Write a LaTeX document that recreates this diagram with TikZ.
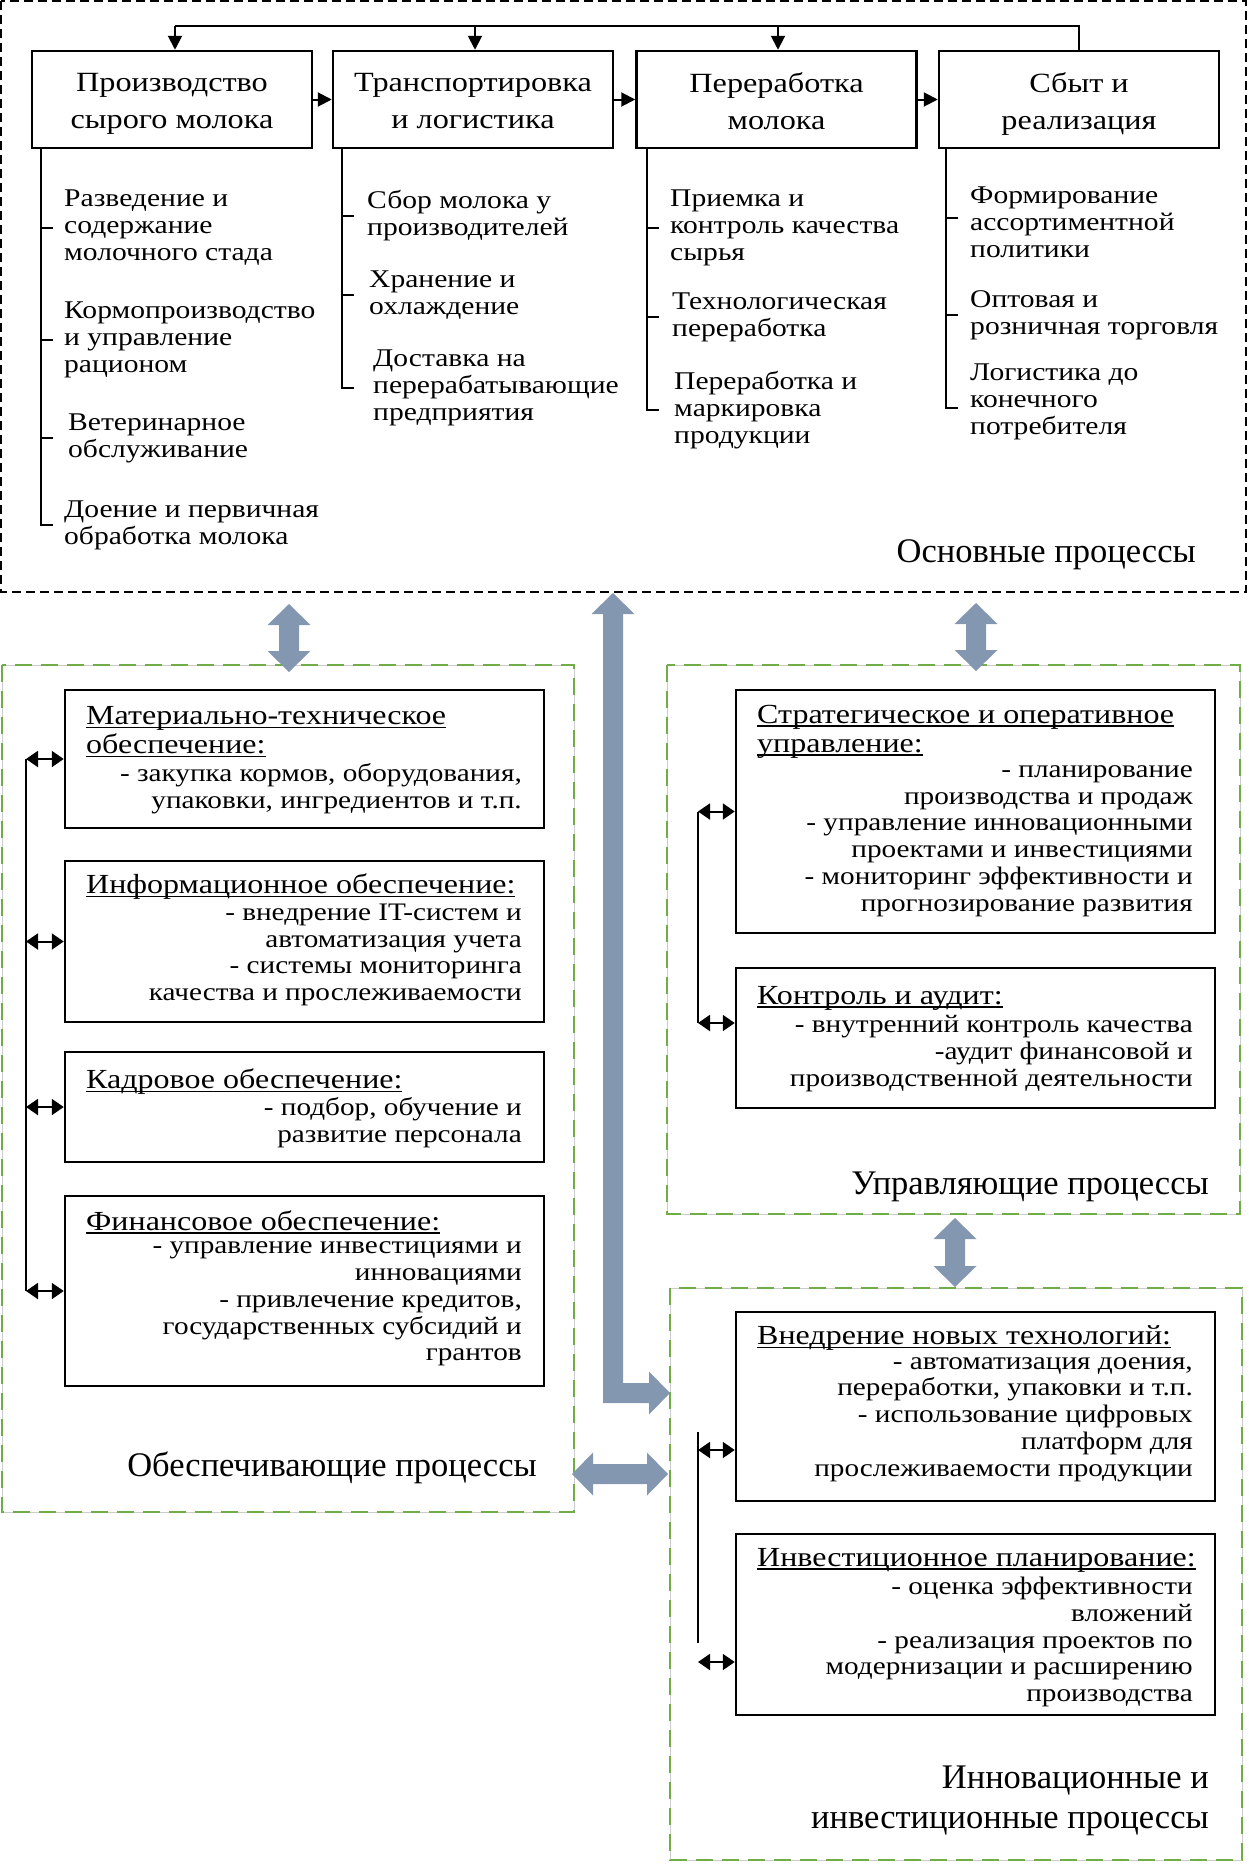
\documentclass[tikz,border=0pt]{standalone}
\usepackage{fontspec}
\setmainfont{Liberation Serif}[FakeStretch=1.16]
\newfontfamily\sectfont{Liberation Serif}
\usetikzlibrary{arrows.meta,calc}
\definecolor{blu}{RGB}{132,151,176}
\definecolor{grn}{RGB}{112,173,71}
\newlength\ulw
\newcommand\myul[1]{\settowidth\ulw{#1}\rlap{\rule[-3.5pt]{\ulw}{1.2pt}}#1}
\newcommand\tst{\vphantom{Пу}}
\newcommand\blkV[3]{\fill[blu] (#1,#2) -- ({#1+21.5},{#2+21}) -- ({#1+10},{#2+21}) -- ({#1+10},{#3-21}) -- ({#1+21.5},{#3-21}) -- (#1,#3) -- ({#1-21.5},{#3-21}) -- ({#1-10},{#3-21}) -- ({#1-10},{#2+21}) -- ({#1-21.5},{#2+21}) -- cycle;}
\tikzset{
 topbox/.style={draw, line width=2.5pt, minimum width=280pt, minimum height=97pt, inner sep=0pt},
 ttl/.style={align=center, inner sep=0pt, font=\fontsize{27.8}{37}\selectfont},
 itm/.style={anchor=west, align=left, inner sep=0pt, font=\fontsize{25.5}{27}\selectfont},
 brk/.style={line width=2.5pt},
 subbox/.style={draw, line width=2.5pt, minimum width=479pt, inner sep=0pt},
 head/.style={anchor=west, align=left, inner sep=0pt, font=\fontsize{27.6}{29}\selectfont},
 body/.style={anchor=east, align=right, inner sep=0pt, font=\fontsize{25.2}{26.8}\selectfont},
 sect/.style={anchor=east, align=right, inner sep=0pt, font=\sectfont\fontsize{34.5}{40}\selectfont},
 grn/.style={draw=grn, line width=2.5pt, dash pattern=on 17pt off 9pt},
 gshade/.style={draw=black!20, line width=0.8pt},
 sarr/.style={line width=2pt, {Triangle[length=12pt,width=16pt]}-{Triangle[length=12pt,width=16pt]}},
 tarr/.style={line width=2pt, -{Triangle[length=14pt,width=14pt]}},
}
\begin{document}
\begin{tikzpicture}[x=1pt,y=-1pt]
\useasboundingbox (0,0) rectangle (1248,1866);
% ---------- main processes ----------
\draw[line width=1.5pt, dash pattern=on 9pt off 5pt] (1,1) rectangle (1246,592);
\node[topbox] (b1) at (172,99.5) {};
\node[topbox] (b2) at (473,99.5) {};
\node[topbox] (b3) at (776.5,99.5) {};
\node[topbox] (b4) at (1079,99.5) {};
\node[ttl] (t1) at ([yshift=-4.5pt]b1.center) {\tst Производство\\\tst сырого молока};
\node[ttl] (t2) at ([yshift=-4.5pt]b2.center) {\tst Транспортировка\\\tst и логистика};
\node[ttl] (t3) at ([yshift=-4.5pt]b3.center) {\tst Переработка\\\tst молока};
\node[ttl] (t4) at ([yshift=-4.5pt]b4.center) {\tst Сбыт и\\\tst реализация};
\draw[tarr] (b1) -- (b2);
\draw[tarr] (b2) -- (b3);
\draw[tarr] (b3) -- (b4);
\coordinate (top) at (0,26);
\draw[line width=2pt] (b4.north) -- (b4.north |- top) -- ([xshift=3pt]b1.north |- top);
\draw[tarr] ([xshift=3pt]b1.north |- top) -- ([xshift=3pt]b1.north);
\draw[tarr] ([xshift=2pt]b2.north |- top) -- ([xshift=2pt]b2.north);
\draw[tarr] ([xshift=1.5pt]b3.north |- top) -- ([xshift=1.5pt]b3.north);
% column 1
\node[itm] (i11) at (64,228) {Разведение и\\содержание\\молочного стада};
\node[itm] (i12) at (64,340) {Кормопроизводство\\и управление\\рационом};
\node[itm] (i13) at (68,438) {Ветеринарное\\обслуживание};
\node[itm] (i14) at (64,525) {Доение и первичная\\обработка молока};
% column 2
\node[itm] (i21) at (367,216) {Сбор молока у\\производителей};
\node[itm] (i22) at (369,295) {Хранение и\\охлаждение};
\node[itm] (i23) at (373,388) {Доставка на\\перерабатывающие\\предприятия};
% column 3
\node[itm] (i31) at (670,228) {Приемка и\\контроль качества\\сырья};
\node[itm] (i32) at (672,317) {Технологическая\\переработка};
\node[itm] (i33) at (674,410) {Переработка и\\маркировка\\продукции};
% column 4
\node[itm] (i41) at (970,222) {Формирование\\ассортиментной\\политики};
\node[itm] (i42) at (970,315) {Оптовая и\\розничная торговля};
\node[itm] (i43) at (970,402) {Логистика до\\конечного\\потребителя};
% brackets
\coordinate (c1) at (41,148);
\draw[brk] (c1) -- (c1 |- i14.west) -- ++(12,0);
\foreach \n in {i11,i12,i13} \draw[brk] (c1 |- \n.west) -- ++(12,0);
\coordinate (c2) at (342,148);
\draw[brk] (c2) -- (c2 |- i23.west) -- ++(12,0);
\foreach \n in {i21,i22} \draw[brk] (c2 |- \n.west) -- ++(12,0);
\coordinate (c3) at (647,148);
\draw[brk] (c3) -- (c3 |- i33.west) -- ++(12,0);
\foreach \n in {i31,i32} \draw[brk] (c3 |- \n.west) -- ++(12,0);
\coordinate (c4) at (946,148);
\draw[brk] (c4) -- ([yshift=-6pt]c4 |- i43.west) -- ++(12,0);
\draw[brk] ([yshift=4pt]c4 |- i41.west) -- ++(12,0);
\draw[brk] (c4 |- i42.west) -- ++(12,0);
\node[sect] (lmain) at (1196,555) {Основные процессы};
% ---------- supporting processes ----------
\draw[gshade] (2,665) rectangle (574,1512);
\draw[grn] (2,665) rectangle (574,1512);
\node[subbox, minimum height=138pt] (s1) at (304.5,759) {};
\node[subbox, minimum height=161pt] (s2) at (304.5,941.5) {};
\node[subbox, minimum height=110pt] (s3) at (304.5,1107) {};
\node[subbox, minimum height=190pt] (s4) at (304.5,1291) {};
\node[head] (s1h) at (86,731.5) {\myul{Материально-техническое}\\\myul{обеспечение:}};
\node[body] (s1b) at (522,788.5) {- закупка кормов, оборудования,\\упаковки, ингредиентов и т.п.};
\node[head] (s2h) at (86,887) {\myul{Информационное обеспечение:}};
\node[body] (s2b) at (522,955) {- внедрение IT-систем и\\автоматизация учета\\- системы мониторинга\\качества и прослеживаемости};
\node[head] (s3h) at (86,1082) {\myul{Кадровое обеспечение:}};
\node[body] (s3b) at (522,1122.5) {- подбор, обучение и\\развитие персонала};
\node[head] (s4h) at (86,1222) {\myul{Финансовое обеспечение:}};
\node[body] (s4b) at (522,1304) {- управление инвестициями и\\инновациями\\- привлечение кредитов,\\государственных субсидий и\\грантов};
\coordinate (L) at (26,0);
\draw[line width=2pt] (s1.west -| L) -- (s4.west -| L);
\foreach \n in {s1,s2,s3,s4} \draw[sarr] (\n.west -| L) -- (\n.west);
\node[sect] (lsup) at (537,1468) {Обеспечивающие процессы};
% ---------- management processes ----------
\draw[gshade] (667,665) rectangle (1240,1214);
\draw[grn] (667,665) rectangle (1240,1214);
\node[subbox, minimum height=243pt] (m1) at (975.5,811.5) {};
\node[subbox, minimum height=140pt] (m2) at (975.5,1038) {};
\node[head] (m1h) at (757,731.5) {\myul{Стратегическое и оперативное}\\\myul{управление:}};
\node[body] (m1b) at (1193,841) {- планирование\\производства и продаж\\- управление инновационными\\проектами и инвестициями\\- мониторинг эффективности и\\прогнозирование развития};
\node[head] (m2h) at (757,998) {\myul{Контроль и аудит:}};
\node[body] (m2b) at (1193,1053.5) {- внутренний контроль качества\\-аудит финансовой и\\производственной деятельности};
\coordinate (R) at (698,0);
\coordinate (m1a) at (m1.west -| R);
\coordinate (m2a) at ([yshift=15pt]m2.west -| R);
\draw[line width=2pt] (m1a) -- (m2a);
\draw[sarr] (m1a) -- (m1.west);
\draw[sarr] (m2a) -- (m2a -| m2.west);
\node[sect] (lman) at (1209,1186.5) {Управляющие процессы};
% ---------- innovation processes ----------
\draw[gshade] (670,1288) rectangle (1242,1860);
\draw[grn] (670,1288) rectangle (1242,1860);
\node[subbox, minimum height=189pt] (n1) at (975.5,1406.5) {};
\node[subbox, minimum height=181pt] (n2) at (975.5,1624.5) {};
\node[head] (n1h) at (757,1338) {\myul{Внедрение новых технологий:}};
\node[body] (n1b) at (1193,1419.5) {- автоматизация доения,\\переработки, упаковки и т.п.\\- использование цифровых\\платформ для\\прослеживаемости продукции};
\node[head] (n2h) at (757,1560) {\myul{Инвестиционное планирование:}};
\node[body] (n2b) at (1193,1642) {- оценка эффективности\\вложений\\- реализация проектов по\\модернизации и расширению\\производства};
\coordinate (n1a) at ([yshift=-43.5pt]n1.west -| R);
\coordinate (n2a) at ([yshift=-37.5pt]n2.west -| R);
\draw[line width=2pt] ([yshift=18pt]n1a) -- ([yshift=19pt]n2a);
\draw[sarr] (n1a) -- (n1a -| n1.west);
\draw[sarr] (n2a) -- (n2a -| n2.west);
\node[sect] (linn) at (1209,1800.5) {Инновационные и\\инвестиционные процессы};
% ---------- block arrows ----------
\blkV{289}{604}{672}
\blkV{976}{603}{671}
\blkV{955}{1218}{1287}
\fill[blu] (613,593) -- (634.5,614) -- (623,614) -- (623,1383) -- (649,1383) -- (649,1371.5) -- (670,1393) -- (649,1414.5) -- (649,1403) -- (603,1403) -- (603,614) -- (591.5,614) -- cycle;
\fill[blu] (572,1474) -- (593,1452.5) -- (593,1464) -- (647,1464) -- (647,1452.5) -- (668,1474) -- (647,1495.5) -- (647,1484) -- (593,1484) -- (593,1495.5) -- cycle;
\end{tikzpicture}
\end{document}
